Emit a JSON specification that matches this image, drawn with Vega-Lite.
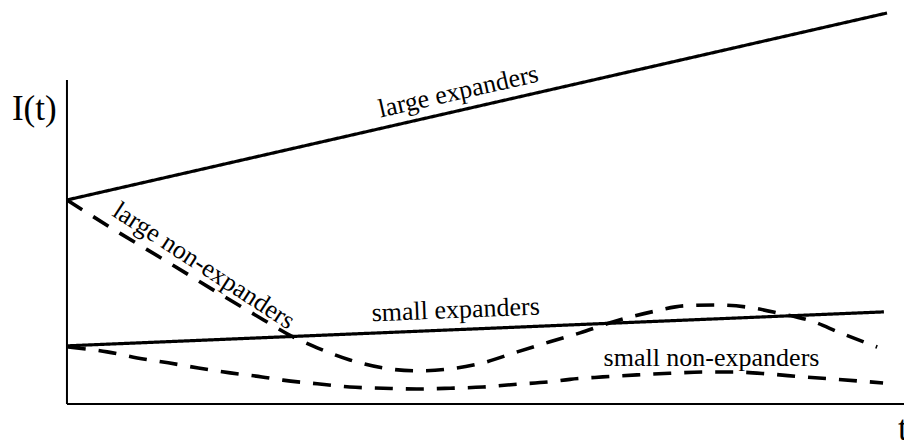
{
  "$schema": "https://vega.github.io/schema/vega-lite/v6.json",
  "width": 904,
  "height": 446,
  "padding": 0,
  "autosize": {"type": "none"},
  "background": "white",
  "config": {"view": {"stroke": null}},
  "datasets": {
    "curves": [
      {"series": "large expanders", "t": 0, "I": 50.5},
      {"series": "large expanders", "t": 97.97, "I": 96.78},
      {"series": "small expanders", "t": 0.1, "I": 14.4},
      {"series": "small expanders", "t": 97.6, "I": 22.8},
      {"series": "large non-expanders", "t": 0, "I": 50.5},
      {"series": "large non-expanders", "t": 6.3, "I": 42.3},
      {"series": "large non-expanders", "t": 12.0, "I": 35.2},
      {"series": "large non-expanders", "t": 18.3, "I": 27.2},
      {"series": "large non-expanders", "t": 23.1, "I": 21.3},
      {"series": "large non-expanders", "t": 27.0, "I": 16.6},
      {"series": "large non-expanders", "t": 29.9, "I": 13.9},
      {"series": "large non-expanders", "t": 33.8, "I": 10.9},
      {"series": "large non-expanders", "t": 37.8, "I": 8.9},
      {"series": "large non-expanders", "t": 41.8, "I": 8.2},
      {"series": "large non-expanders", "t": 45.8, "I": 8.7},
      {"series": "large non-expanders", "t": 49.7, "I": 10.2},
      {"series": "large non-expanders", "t": 53.8, "I": 12.9},
      {"series": "large non-expanders", "t": 57.7, "I": 15.4},
      {"series": "large non-expanders", "t": 61.3, "I": 17.6},
      {"series": "large non-expanders", "t": 65.2, "I": 20.3},
      {"series": "large non-expanders", "t": 70.3, "I": 23.0},
      {"series": "large non-expanders", "t": 73.8, "I": 24.3},
      {"series": "large non-expanders", "t": 77.4, "I": 24.5},
      {"series": "large non-expanders", "t": 81.2, "I": 24.0},
      {"series": "large non-expanders", "t": 85.0, "I": 22.5},
      {"series": "large non-expanders", "t": 89.0, "I": 20.5},
      {"series": "large non-expanders", "t": 92.4, "I": 17.6},
      {"series": "large non-expanders", "t": 96.8, "I": 14.1},
      {"series": "small non-expanders", "t": 0.1, "I": 14.1},
      {"series": "small non-expanders", "t": 4.8, "I": 12.9},
      {"series": "small non-expanders", "t": 8.4, "I": 11.4},
      {"series": "small non-expanders", "t": 12.1, "I": 10.2},
      {"series": "small non-expanders", "t": 15.7, "I": 8.9},
      {"series": "small non-expanders", "t": 19.5, "I": 7.7},
      {"series": "small non-expanders", "t": 23.3, "I": 6.7},
      {"series": "small non-expanders", "t": 25.8, "I": 5.9},
      {"series": "small non-expanders", "t": 29.9, "I": 5.0},
      {"series": "small non-expanders", "t": 33.8, "I": 4.2},
      {"series": "small non-expanders", "t": 37.8, "I": 3.9},
      {"series": "small non-expanders", "t": 41.8, "I": 3.7},
      {"series": "small non-expanders", "t": 45.8, "I": 3.9},
      {"series": "small non-expanders", "t": 49.7, "I": 4.2},
      {"series": "small non-expanders", "t": 53.8, "I": 4.9},
      {"series": "small non-expanders", "t": 57.7, "I": 5.5},
      {"series": "small non-expanders", "t": 60.1, "I": 6.1},
      {"series": "small non-expanders", "t": 64.0, "I": 6.7},
      {"series": "small non-expanders", "t": 68.1, "I": 7.2},
      {"series": "small non-expanders", "t": 72.0, "I": 7.6},
      {"series": "small non-expanders", "t": 76.0, "I": 7.9},
      {"series": "small non-expanders", "t": 80.0, "I": 7.9},
      {"series": "small non-expanders", "t": 84.0, "I": 7.4},
      {"series": "small non-expanders", "t": 87.9, "I": 6.7},
      {"series": "small non-expanders", "t": 92.0, "I": 6.1},
      {"series": "small non-expanders", "t": 97.5, "I": 5.2}
    ],
    "axes": [
      {"axis": "I", "t": 0, "I": 0, "t2": 0, "I2": 80.2},
      {"axis": "t", "t": 0, "I": 0, "t2": 101, "I2": 0}
    ]
  },
  "encoding": {
    "x": {"field": "t", "type": "quantitative", "scale": {"domain": [-8, 100], "nice": false, "zero": false}, "axis": null},
    "y": {"field": "I", "type": "quantitative", "scale": {"domain": [-10.4, 100], "nice": false, "zero": false}, "axis": null}
  },
  "layer": [
    {
      "data": {"name": "axes"},
      "mark": {"type": "rule", "color": "black", "strokeWidth": 2},
      "encoding": {
        "x2": {"field": "t2"},
        "y2": {"field": "I2"}
      }
    },
    {
      "data": {"name": "curves"},
      "mark": {"type": "line", "color": "black", "interpolate": "monotone"},
      "encoding": {
        "detail": {"field": "series", "type": "nominal"},
        "strokeDash": {
          "field": "series",
          "type": "nominal",
          "scale": {
            "domain": ["large expanders", "small expanders", "large non-expanders", "small non-expanders"],
            "range": [[1, 0], [1, 0], [18, 13], [18, 13]]
          },
          "legend": null
        },
        "strokeWidth": {
          "field": "series",
          "type": "nominal",
          "scale": {
            "type": "ordinal",
            "domain": ["large expanders", "small expanders", "large non-expanders", "small non-expanders"],
            "range": [3.2, 3.2, 3.6, 3.6]
          },
          "legend": null
        }
      }
    },
    {
      "data": {"values": [{"label": "I(t)", "t": -6.57, "I": 70.3}, {"label": "t", "t": 99.29, "I": -8.9}]},
      "mark": {"type": "text", "font": "'Liberation Serif', 'Times New Roman', serif", "fontSize": 35, "align": "left", "baseline": "alphabetic", "color": "black"},
      "encoding": {"text": {"field": "label"}}
    },
    {
      "data": {"values": [{"label": "large expanders", "t": 46.96, "I": 75.4}]},
      "mark": {"type": "text", "font": "'Liberation Serif', 'Times New Roman', serif", "fontSize": 26, "align": "center", "baseline": "alphabetic", "angle": -12.8, "color": "black"},
      "encoding": {"text": {"field": "label"}}
    },
    {
      "data": {"values": [{"label": "small expanders", "t": 46.48, "I": 21.3}]},
      "mark": {"type": "text", "font": "'Liberation Serif', 'Times New Roman', serif", "fontSize": 26, "align": "center", "baseline": "alphabetic", "angle": -2.3, "color": "black"},
      "encoding": {"text": {"field": "label"}}
    },
    {
      "data": {"values": [{"label": "small non-expanders", "t": 77.0, "I": 9.4}]},
      "mark": {"type": "text", "font": "'Liberation Serif', 'Times New Roman', serif", "fontSize": 26, "align": "center", "baseline": "alphabetic", "color": "black"},
      "encoding": {"text": {"field": "label"}}
    },
    {
      "data": {"values": [{"label": "large non-expanders", "t": 15.84, "I": 32.55}]},
      "mark": {"type": "text", "font": "'Liberation Serif', 'Times New Roman', serif", "fontSize": 26, "align": "center", "baseline": "alphabetic", "angle": 33, "color": "black"},
      "encoding": {"text": {"field": "label"}}
    }
  ]
}
